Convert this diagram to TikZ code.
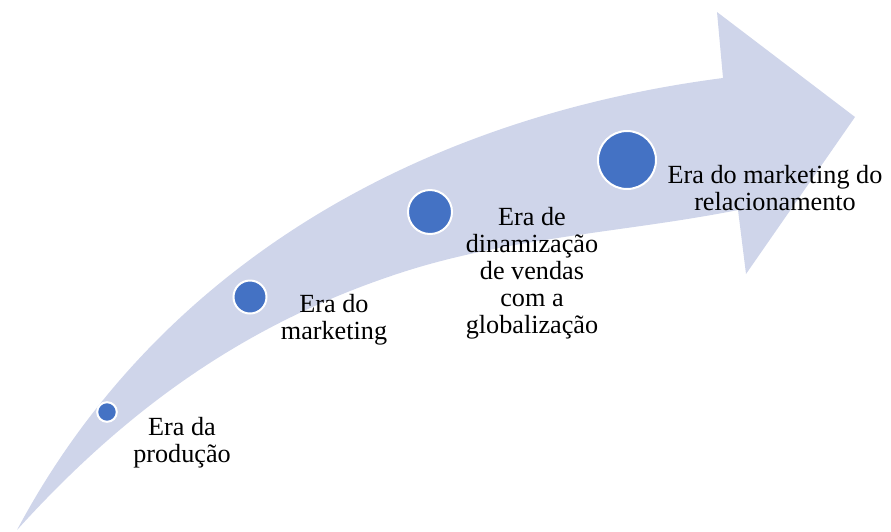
\documentclass[tikz,border=0pt]{standalone}
\usepackage{fontspec}
\setmainfont{Liberation Serif}
\definecolor{arrowfill}{HTML}{CFD5EA}
\definecolor{dotblue}{HTML}{4472C4}
\begin{document}
\begin{tikzpicture}[x=1pt,y=-1pt,
  dot/.style={circle,fill=dotblue,draw=white,line width=2pt,inner sep=0pt},
  lbl/.style={align=center,font=\fontsize{26.2}{27}\selectfont,inner sep=0pt,anchor=base}]
\useasboundingbox (0,0) rectangle (891,531);
% curved arrow
\fill[arrowfill] (17,530) .. controls (150,280) and (400,120) .. (723,78)
  -- (717,12) -- (855,117) -- (746,274) -- (738,210)
  .. controls (628,232) and (510,237) .. (400,273)
  .. controls (250,322) and (130,405) .. (17,530) -- cycle;
% dots
\node[dot,minimum size=19.6pt] (d1) at (107,412) {};
\node[dot,minimum size=33pt] (d2) at (250,297) {};
\node[dot,minimum size=44pt] (d3) at (430,212) {};
\node[dot,minimum size=58pt] (d4) at (627,160) {};
% labels (anchor = baseline of the last line)
\node[lbl] (l1) at (182,462) {Era da\\produção};
\node[lbl] (l2) at (334,339) {Era do\\marketing};
\node[lbl] (l3) at (532,333) {Era de\\dinamização\\de vendas\\com a\\globalização};
\node[lbl] (l4) at (775,210) {Era do marketing do\\relacionamento};
\end{tikzpicture}
\end{document}
